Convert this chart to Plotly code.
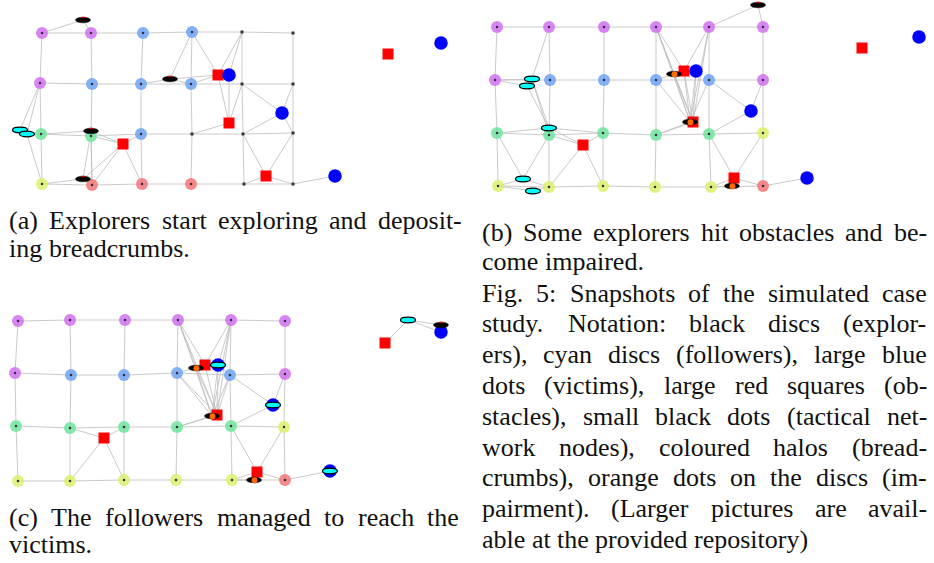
import plotly.graph_objects as go

W, H = 934, 563

# ======================= DATA =======================
# Panel (a) – grid node positions (panel-local pixels), halo colour codes
A_NODE_X = [[42, 91, 143, 192, 242, 293],
            [40, 92, 141, 191, 242, 293],
            [41, 91, 141, 192, 243, 293],
            [42, 92, 142, 191, 244, 293]]
A_NODE_Y = [[33, 33, 33, 32, 32, 33],
            [83, 84, 84, 84, 84, 84],
            [134, 136, 134, 134, 134, 133],
            [184, 185, 184, 184, 184, 184]]
A_HALO = ["PPBBKK", "PBBBKK", "GGBKKK", "YRRRKK"]
A_VICTIMS = [(229, 75), (282, 113), (335, 176), (441, 43)]
A_OBSTACLES = [(218, 75), (229, 123), (123, 144), (266, 176), (388, 54)]
A_EXPLORERS = [(83, 20), (170, 79), (91, 131), (83, 179)]
A_IMPAIRED = []
A_FOLLOWERS = [(20, 130), (27, 134)]
A_EDGES = ["e1-n00", "e1-n01", "n10-f1", "n10-f2", "f2-n30",
           "e2-n12", "e2-n13", "e2-n03", "e2-o1", "n03-o1", "n13-o1", "n04-o1",
           "n04-v1", "o1-o2", "v1-o2", "n14-o2", "n23-o2", "n14-v2", "n24-v2",
           "n15-v2", "n25-v2", "n24-o4", "n25-o4", "o4-n34", "o4-n35", "n35-v3",
           "e3-n21", "e3-o3", "e3-n20", "n21-o3", "o3-n22", "o3-n32", "o3-n31",
           "e4-o3", "e4-n30", "e4-n31", "e4-e3", "n31-e3"]

# Panel (b)
B_NODE_X = [[27, 79, 134, 186, 239, 293],
            [25, 80, 134, 186, 239, 293],
            [27, 79, 133, 186, 239, 293],
            [28, 79, 133, 185, 241, 293]]
B_NODE_Y = [[27, 27, 27, 27, 27, 27],
            [80, 80, 80, 80, 80, 80],
            [133, 135, 133, 135, 134, 133],
            [186, 187, 186, 187, 187, 186]]
B_HALO = ["PPPPPP", "PBBBBP", "GGGGGY", "YYYYYR"]
B_VICTIMS = [(226, 71), (281, 111), (337, 178), (449, 37)]
B_OBSTACLES = [(214, 71), (223, 122), (113, 145), (264, 178), (392, 48)]
B_EXPLORERS = [(288, 5), (204, 74), (220, 122), (262, 186)]
B_IMPAIRED = [2, 3, 4]
B_FOLLOWERS = [(62, 79), (57, 86), (79, 128), (53, 179), (63, 191)]
B_EDGES = ["n01-f1", "n10-f1", "n10-f2", "f1-f3", "f2-f3", "f1-n21", "f3-n20",
           "f3-n21", "f3-o3", "f3-n22", "n21-o3", "n22-o3", "o3-n31", "o3-n32",
           "n20-f4", "n21-f4", "f4-n30", "f4-n31", "f5-n30", "f5-n31",
           "e1-n04", "e1-n05", "n03-o1", "n03-e2", "n03-e3", "n03-o2", "n04-o1",
           "n04-e3", "n04-o2", "e2-e3", "e2-o2", "o1-e3", "o1-o2", "v1-e3",
           "v1-o2", "n13-e2", "n13-e3", "n14-e3", "n23-e3", "n23-o2",
           "n14-v2", "n15-v2", "v2-n24", "n24-o4", "n25-o4", "o4-n34",
           "o4-n35", "o4-e4", "e4-n34", "n35-v3"]

# Panel (c)
C_NODE_X = [[18, 70, 125, 178, 231, 285],
            [15, 71, 124, 177, 230, 285],
            [16, 70, 124, 177, 231, 284],
            [18, 70, 124, 176, 232, 285]]
C_NODE_Y = [[21, 20, 20, 20, 20, 21],
            [73, 75, 75, 73, 75, 74],
            [126, 128, 127, 127, 126, 127],
            [181, 181, 180, 180, 180, 180]]
C_HALO = ["PPPPPP", "PBBBBP", "GGGGGY", "YYYYYR"]
C_VICTIMS = [(218, 65), (273, 105), (330, 171), (441, 32)]
C_OBSTACLES = [(205, 65), (217, 115), (104, 138), (257, 172), (385, 43)]
C_EXPLORERS = [(196, 68), (212, 116), (254, 180), (441, 25)]
C_IMPAIRED = [1, 2, 3]
C_FOLLOWERS = [(218, 65), (273, 105), (330, 171), (408, 20)]
C_EDGES = ["o3-n21", "o3-n22", "o3-n31", "o3-n32", "n03-o1", "n03-e1", "n03-e2",
           "n03-o2", "n04-o1", "n04-v1", "n04-e2", "n04-o2", "n13-e1", "n13-e2",
           "n13-o2", "n14-e2", "n14-o2", "n14-v1", "e1-e2", "e1-o2", "o1-o2",
           "v1-o2", "v1-e2", "n23-e2", "n23-o2", "n14-v2", "n15-v2", "v2-n24",
           "n24-o4", "n25-o4", "o4-e3", "o4-n34", "o4-n35", "e3-n34", "n35-v3",
           "f4-e4", "f4-v4", "f4-o5"]

# Captions
CAP_A = ["(a) Explorers start exploring and deposit-", "ing breadcrumbs."]
CAP_B = ["(b) Some explorers hit obstacles and be-", "come impaired."]
CAP_FIG = ["Fig. 5: Snapshots of the simulated case",
           "study. Notation: black discs (explor-",
           "ers), cyan discs (followers), large blue",
           "dots (victims), large red squares (ob-",
           "stacles), small black dots (tactical net-",
           "work nodes), coloured halos (bread-",
           "crumbs), orange dots on the discs (im-",
           "pairment). (Larger pictures are avail-",
           "able at the provided repository)"]
CAP_C = ["(c) The followers managed to reach the", "victims."]

# ======================= STYLE / LAYOUT =======================
HALO_COL = {"P": "#d070ee", "B": "#6fa2f2", "G": "#6fe49c", "Y": "#dcef6c", "R": "#f37676"}
EDGE_COL = "#bcbcbc"

panels = [
    dict(nx=A_NODE_X, ny=A_NODE_Y, halo=A_HALO, vic=A_VICTIMS, obs=A_OBSTACLES,
         exp=A_EXPLORERS, imp=A_IMPAIRED, fol=A_FOLLOWERS, edges=A_EDGES,
         ax="x", ay="y", box=(0, 0, 470, 200)),
    dict(nx=B_NODE_X, ny=B_NODE_Y, halo=B_HALO, vic=B_VICTIMS, obs=B_OBSTACLES,
         exp=B_EXPLORERS, imp=B_IMPAIRED, fol=B_FOLLOWERS, edges=B_EDGES,
         ax="x2", ay="y2", box=(470, 0, 464, 200)),
    dict(nx=C_NODE_X, ny=C_NODE_Y, halo=C_HALO, vic=C_VICTIMS, obs=C_OBSTACLES,
         exp=C_EXPLORERS, imp=C_IMPAIRED, fol=C_FOLLOWERS, edges=C_EDGES,
         ax="x3", ay="y3", box=(0, 300, 470, 200)),
]

fig = go.Figure()
shapes = []
layout_axes = {}

for p in panels:
    ax, ay = p["ax"], p["ay"]
    bx, by, bw, bh = p["box"]
    xname = "xaxis" if ax == "x" else "xaxis" + ax[1:]
    yname = "yaxis" if ay == "y" else "yaxis" + ay[1:]
    layout_axes[xname] = dict(domain=[bx / W, (bx + bw) / W], range=[0, bw],
                              visible=False, fixedrange=True)
    layout_axes[yname] = dict(domain=[1 - (by + bh) / H, 1 - by / H], range=[bh, 0],
                              visible=False, fixedrange=True)

    pos = {}
    for r in range(4):
        for c in range(6):
            pos[f"n{r}{c}"] = (p["nx"][r][c], p["ny"][r][c])
    for i, v in enumerate(p["vic"]):
        pos[f"v{i+1}"] = v
    for i, v in enumerate(p["obs"]):
        pos[f"o{i+1}"] = v
    for i, v in enumerate(p["exp"]):
        pos[f"e{i+1}"] = v
    for i, v in enumerate(p["fol"]):
        pos[f"f{i+1}"] = v

    # edges: full tactical grid + extra links
    links = []
    for r in range(4):
        for c in range(5):
            links.append((f"n{r}{c}", f"n{r}{c+1}"))
    for c in range(6):
        for r in range(3):
            links.append((f"n{r}{c}", f"n{r+1}{c}"))
    for e in p["edges"]:
        a, b = e.split("-")
        links.append((a, b))
    ex, ey = [], []
    for a, b in links:
        ex += [pos[a][0], pos[b][0], None]
        ey += [pos[a][1], pos[b][1], None]
    fig.add_trace(go.Scatter(x=ex, y=ey, mode="lines", xaxis=ax, yaxis=ay,
                             line=dict(color=EDGE_COL, width=0.8),
                             hoverinfo="skip", cliponaxis=False))

    # halos
    for code, col in HALO_COL.items():
        hx, hy = [], []
        for r in range(4):
            for c in range(6):
                if p["halo"][r][c] == code:
                    hx.append(p["nx"][r][c]); hy.append(p["ny"][r][c])
        if hx:
            fig.add_trace(go.Scatter(x=hx, y=hy, mode="markers", xaxis=ax, yaxis=ay,
                                     marker=dict(size=12, color=col, opacity=0.85,
                                                 line=dict(width=0)),
                                     hoverinfo="skip", cliponaxis=False))
    # node centres
    kx, ky, sx, sy = [], [], [], []
    for r in range(4):
        for c in range(6):
            if p["halo"][r][c] == "K":
                sx.append(p["nx"][r][c]); sy.append(p["ny"][r][c])
            else:
                kx.append(p["nx"][r][c]); ky.append(p["ny"][r][c])
    fig.add_trace(go.Scatter(x=kx, y=ky, mode="markers", xaxis=ax, yaxis=ay,
                             marker=dict(size=2.5, color="#3a2a44", line=dict(width=0)),
                             hoverinfo="skip", cliponaxis=False))
    if sx:
        fig.add_trace(go.Scatter(x=sx, y=sy, mode="markers", xaxis=ax, yaxis=ay,
                                 marker=dict(size=3.5, color="#333333",
                                             line=dict(width=0.6, color="#999999")),
                                 hoverinfo="skip", cliponaxis=False))
    # obstacles
    fig.add_trace(go.Scatter(x=[o[0] for o in p["obs"]], y=[o[1] for o in p["obs"]],
                             mode="markers", xaxis=ax, yaxis=ay,
                             marker=dict(symbol="square", size=11, color="#ff0000",
                                         line=dict(width=0)),
                             hoverinfo="skip", cliponaxis=False))
    # victims
    fig.add_trace(go.Scatter(x=[v[0] for v in p["vic"]], y=[v[1] for v in p["vic"]],
                             mode="markers", xaxis=ax, yaxis=ay,
                             marker=dict(symbol="circle", size=13.5, color="#0000ff",
                                         line=dict(width=0)),
                             hoverinfo="skip", cliponaxis=False))

    # followers (cyan discs)
    for (fx, fy) in p["fol"]:
        shapes.append(dict(type="circle", xref=ax, yref=ay, x0=fx - 7.5, x1=fx + 7.5,
                           y0=fy - 2.8, y1=fy + 2.8, fillcolor="#00ffff",
                           line=dict(color="#000000", width=1.2), layer="above"))
    # explorers (black discs)
    for i, (qx, qy) in enumerate(p["exp"]):
        shapes.append(dict(type="circle", xref=ax, yref=ay, x0=qx - 7.5, x1=qx + 7.5,
                           y0=qy - 2.8, y1=qy + 2.8, fillcolor="#000000",
                           line=dict(color="#000000", width=0.5), layer="above"))
        if (i + 1) in p["imp"]:
            shapes.append(dict(type="circle", xref=ax, yref=ay, x0=qx - 2.5, x1=qx + 3.5,
                               y0=qy - 2.7, y1=qy + 3.3, fillcolor="#ff6a00",
                               line=dict(width=0), layer="above"))
        else:
            shapes.append(dict(type="circle", xref=ax, yref=ay, x0=qx - 2.5, x1=qx + 2.5,
                               y0=qy - 3.2, y1=qy - 1.8, fillcolor="#cc0000",
                               line=dict(width=0), layer="above"))

# ======================= CAPTIONS =======================
FONT = "Liberation Serif"
FS = 26
CW = {' ': 250, '(': 333, ')': 333, ',': 250, '-': 333, '.': 250, ':': 278, '5': 500,
      'A': 722, 'B': 667, 'C': 667, 'D': 722, 'E': 611, 'F': 556, 'G': 722, 'H': 722,
      'I': 333, 'L': 611, 'M': 889, 'N': 722, 'O': 722, 'P': 556, 'R': 667, 'S': 556,
      'T': 611, 'a': 444, 'b': 500, 'c': 444, 'd': 500, 'e': 444, 'f': 333, 'g': 500,
      'h': 500, 'i': 278, 'j': 278, 'k': 500, 'l': 278, 'm': 778, 'n': 500, 'o': 500,
      'p': 500, 'q': 500, 'r': 333, 's': 389, 't': 278, 'u': 500, 'v': 500, 'w': 722,
      'x': 500, 'y': 500, 'z': 444}


def tw(s):
    return sum(CW.get(ch, 500) for ch in s) * FS / 1000.0


annotations = []


def add_para(lines, x0, x1, y0, dy):
    for k, line in enumerate(lines):
        words = line.split(" ")
        widths = [tw(w) for w in words]
        last = (k == len(lines) - 1)
        if last or len(words) == 1:
            gap = tw(" ")
        else:
            gap = (x1 - x0 - sum(widths)) / (len(words) - 1)
        x = x0
        yc = y0 + k * dy
        for w, wd in zip(words, widths):
            annotations.append(dict(text=w, x=x / W, y=1 - yc / H, xref="paper",
                                    yref="paper", xanchor="left", yanchor="middle",
                                    showarrow=False, borderpad=0,
                                    font=dict(family=FONT, size=FS, color="#111111")))
            x += wd + gap


add_para(CAP_A, 8, 461, 221, 27)
add_para(CAP_B, 481, 926, 233, 28)
add_para(CAP_FIG, 481, 926, 293, 30.8)
add_para(CAP_C, 8, 458, 517, 27)

fig.update_layout(width=W, height=H, margin=dict(l=0, r=0, t=0, b=0),
                  paper_bgcolor="white", plot_bgcolor="white", showlegend=False,
                  shapes=shapes, annotations=annotations, **layout_axes)

fig.write_html("out.html", config={"displayModeBar": False},
               post_script="document.body.style.margin='0px';document.body.style.padding='0px';")
